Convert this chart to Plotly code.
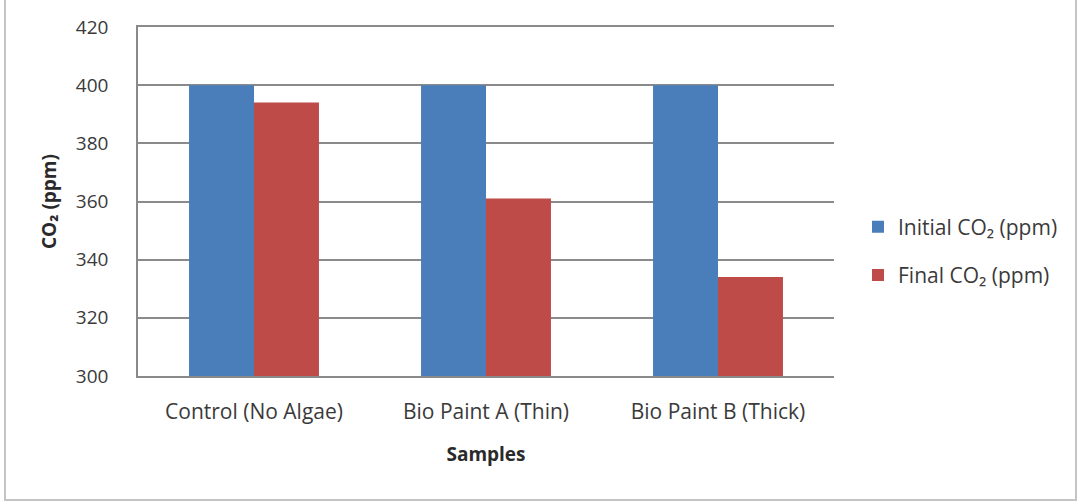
import plotly.graph_objects as go

# Sample groups and measured CO2 concentrations
samples = ["Control (No Algae)", "Bio Paint A (Thin)", "Bio Paint B (Thick)"]
initial_co2 = [400, 400, 400]
final_co2 = [394, 361, 334]
y_ticks = [300, 320, 340, 360, 380, 400, 420]

W, H = 1079, 504
L, R, T, B = 138, 245, 27, 128
pw, ph = W - L - R, H - T - B

font_family = "Open Sans, Liberation Sans, Arial"
text_color = "#3a3a3a"

fig = go.Figure()
fig.add_trace(go.Bar(
    x=samples, y=initial_co2, name="Initial CO₂ (ppm)",
    marker=dict(color="#4A7EBB", line=dict(width=0)),
    legendgroup="a",
))
fig.add_trace(go.Bar(
    x=samples, y=final_co2, name="Final CO₂ (ppm)",
    marker=dict(color="#BE4B48", line=dict(width=0)),
    legendgroup="b",
))

# Light frame around the whole chart
def px_to_x(px):
    return (px - L) / pw

def px_to_y(py):
    return (H - B - py) / ph

fig.add_shape(
    type="rect", xref="paper", yref="paper",
    x0=px_to_x(5), x1=px_to_x(1076), y0=px_to_y(500), y1=px_to_y(-5),
    line=dict(color="#c4c4c4", width=2), fillcolor="rgba(0,0,0,0)",
    layer="below",
)

fig.update_layout(
    width=W, height=H,
    margin=dict(l=L, r=R, t=T, b=B),
    paper_bgcolor="white", plot_bgcolor="white",
    barmode="group", bargap=0.44, bargroupgap=0,
    font=dict(family=font_family, size=19, color=text_color),
    xaxis=dict(
        title=dict(text="<b>Samples</b>", font=dict(size=19, color="#2a2a2a"), standoff=24),
        showline=True, linecolor="#8a8a8a", linewidth=1.5, mirror=True,
        ticks="", showgrid=False, ticklabelstandoff=16,
        tickfont=dict(size=21, color=text_color),
    ),
    yaxis=dict(
        title=dict(text="<b>CO₂ (ppm)</b>", font=dict(size=19, color="#2a2a2a"), standoff=14),
        range=[300, 420], tickvals=y_ticks,
        showline=True, linecolor="#8a8a8a", linewidth=1.5,
        showgrid=True, gridcolor="#8a8a8a", gridwidth=1.5,
        ticks="", ticklabelstandoff=24,
        tickfont=dict(size=19, color=text_color),
        zeroline=False,
    ),
    legend=dict(
        x=(858 - L) / pw, xanchor="left", y=px_to_y(251), yanchor="middle",
        font=dict(size=21, color=text_color),
        tracegroupgap=18, itemsizing="constant",
        bgcolor="rgba(0,0,0,0)",
    ),
    showlegend=True,
)

fig.write_html("out.html")
